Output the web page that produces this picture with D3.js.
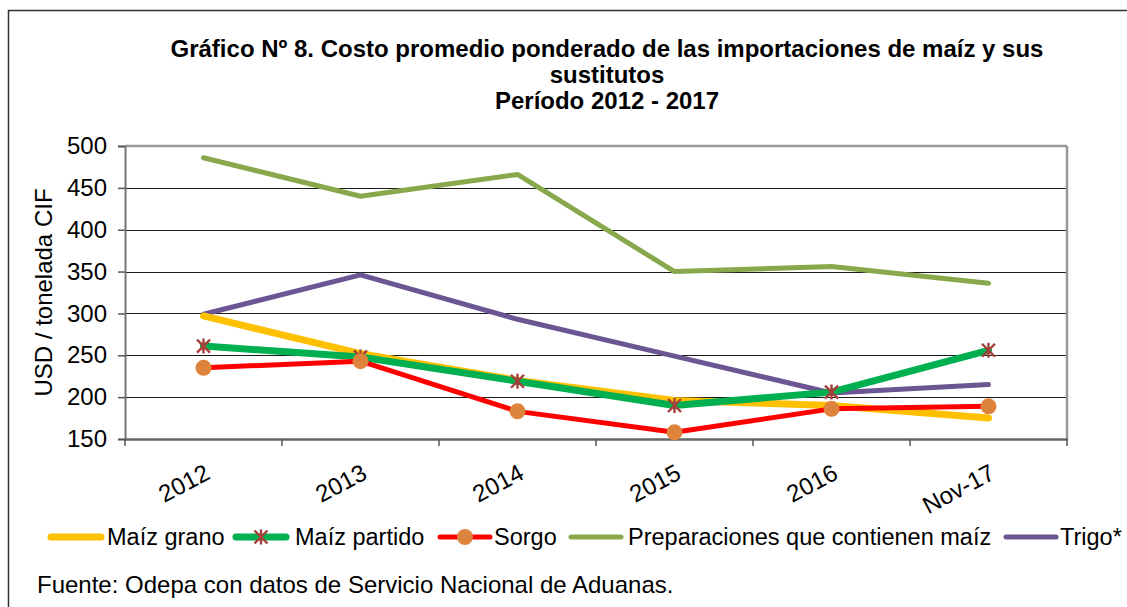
<!DOCTYPE html>
<html><head><meta charset="utf-8">
<script src="https://cdn.jsdelivr.net/npm/d3@7"></script>
<style>body{margin:0;background:#fff}svg{display:block}text{font-family:Arial,"Liberation Sans",sans-serif}</style>
</head><body>
<svg id="c" width="1127" height="607"></svg>
<script>
const categories = ["2012","2013","2014","2015","2016","Nov-17"];
const maizGrano = [297, 252, 220, 196, 190, 175];
const maizPartido = [261, 248, 219, 190, 206, 256];
const sorgo = [235, 243, 183, 158, 186, 189];
const preparaciones = [486, 440, 466, 350, 356, 336];
const trigo = [299, 346, 293, 249, 205, 215];
const yTicks = [150, 200, 250, 300, 350, 400, 450, 500];
const titleLines = ["Gráfico Nº 8. Costo promedio ponderado de las importaciones de maíz y sus", "sustitutos", "Período 2012 - 2017"];
const yTitle = "USD / tonelada CIF";
const source = "Fuente: Odepa con datos de Servicio Nacional de Aduanas.";

const series = [
  {name:"Maíz grano", values:maizGrano, color:"#FFC000", width:7, marker:null},
  {name:"Maíz partido", values:maizPartido, color:"#00B050", width:7, marker:"star"},
  {name:"Sorgo", values:sorgo, color:"#FF0000", width:5, marker:"circle"},
  {name:"Preparaciones que contienen maíz", values:preparaciones, color:"#87A84B", width:5, marker:null},
  {name:"Trigo*", values:trigo, color:"#6B5592", width:5, marker:null}
];
const legendLineX = [48, 233, 437, 568, 1003];
const legendTextX = [107, 295, 494, 628, 1060];

const svg = d3.select("#c");
const L = 125, R = 1067, T = 146, B = 439;
const x = d3.scaleBand().domain(categories).range([L, R]);
const y = d3.scaleLinear().domain([150, 500]).range([B, T]);

// outer border
svg.append("rect").attr("x",8.5).attr("y",10.5).attr("width",1130).attr("height",610)
  .attr("fill","none").attr("stroke","#333").attr("stroke-width",1.5);

// title
const tt = svg.append("text").attr("text-anchor","middle").attr("font-weight","bold").attr("font-size",24).attr("fill","#000");
titleLines.forEach((t,i)=> tt.append("tspan").attr("x",607).attr("y",57+i*26).text(t));

// gridlines
svg.append("g").selectAll("line").data(yTicks.filter(v=>v>150 && v<500)).join("line")
  .attr("x1",L).attr("x2",R).attr("y1",d=>Math.round(y(d))+0.5).attr("y2",d=>Math.round(y(d))+0.5)
  .attr("stroke","#1a1a1a").attr("stroke-width",1.2);

// frame top/right
svg.append("line").attr("x1",L).attr("x2",R).attr("y1",T).attr("y2",T).attr("stroke","#999").attr("stroke-width",2.5);
svg.append("line").attr("x1",R).attr("x2",R).attr("y1",T).attr("y2",B).attr("stroke","#999").attr("stroke-width",2.5);

// y axis
const ya = svg.append("g").attr("transform",`translate(${L},0)`)
  .call(d3.axisLeft(y).tickValues(yTicks).tickSize(7).tickPadding(11));
ya.select(".domain").attr("stroke","#777").attr("stroke-width",2);
ya.selectAll(".tick line").attr("stroke","#555").attr("stroke-width",1.5);
ya.selectAll("text").attr("font-size",24).attr("font-family","Arial,'Liberation Sans',sans-serif").attr("fill","#000");

// x axis
const xa = svg.append("g").attr("transform",`translate(0,${B})`)
  .call(d3.axisBottom(x).tickSize(0).tickFormat(""));
xa.select(".domain").attr("stroke","#666").attr("stroke-width",2.5);
const edges = categories.map(c=>x(c)).concat([R]);
svg.append("g").selectAll("line").data(edges).join("line")
  .attr("x1",d=>d).attr("x2",d=>d).attr("y1",B).attr("y2",B+7).attr("stroke","#555").attr("stroke-width",1.5);
svg.append("g").selectAll("text").data(categories).join("text")
  .attr("transform",d=>`translate(${x(d)+x.bandwidth()/2},${B+24}) rotate(-28)`)
  .attr("text-anchor","end").attr("dy","0.71em").attr("font-size",24).attr("fill","#000").text(d=>d);

// y title
svg.append("text").attr("transform",`translate(52,${(T+B)/2}) rotate(-90)`).attr("text-anchor","middle")
  .attr("font-size",24).attr("fill","#000").text(yTitle);

// lines
const line = d3.line().x((d,i)=>x(categories[i])+x.bandwidth()/2).y(d=>y(d));
const order = [3,4,0,1,2];
order.forEach(k=>{
  const s = series[k];
  svg.append("path").datum(s.values).attr("d",line).attr("fill","none")
    .attr("stroke",s.color).attr("stroke-width",s.width).attr("stroke-linejoin","round").attr("stroke-linecap","round");
});

function star(g, cx, cy, r){
  g.append("path")
    .attr("d",`M${cx-r},${cy-r}L${cx+r},${cy+r}M${cx-r},${cy+r}L${cx+r},${cy-r}M${cx},${cy-r-1}L${cx},${cy+r+1}`)
    .attr("stroke","#A5403B").attr("stroke-width",2.4).attr("fill","none");
}
series.forEach(s=>{
  if(!s.marker) return;
  const g = svg.append("g");
  s.values.forEach((v,i)=>{
    const cx = x(categories[i])+x.bandwidth()/2, cy = y(v);
    if(s.marker==="star") star(g,cx,cy,6.5);
    else g.append("circle").attr("cx",cx).attr("cy",cy).attr("r",8).attr("fill","#DE833B");
  });
});

// legend
const lg = svg.append("g");
const ly = 537;
series.forEach((s,i)=>{
  const lx = legendLineX[i];
  lg.append("line").attr("x1",lx+3).attr("x2",lx+53).attr("y1",ly).attr("y2",ly)
    .attr("stroke",s.color).attr("stroke-width",s.width).attr("stroke-linecap","round");
  const cx = lx+28;
  if(s.marker==="star") star(lg,cx,ly,6.5);
  if(s.marker==="circle") lg.append("circle").attr("cx",cx).attr("cy",ly).attr("r",8).attr("fill","#DE833B");
  lg.append("text").attr("x",legendTextX[i]).attr("y",ly+8).attr("font-size",23.5).attr("fill","#000").text(s.name);
});

// source
svg.append("text").attr("x",37).attr("y",593).attr("font-size",24).attr("fill","#000").text(source);
</script>
</body></html>
